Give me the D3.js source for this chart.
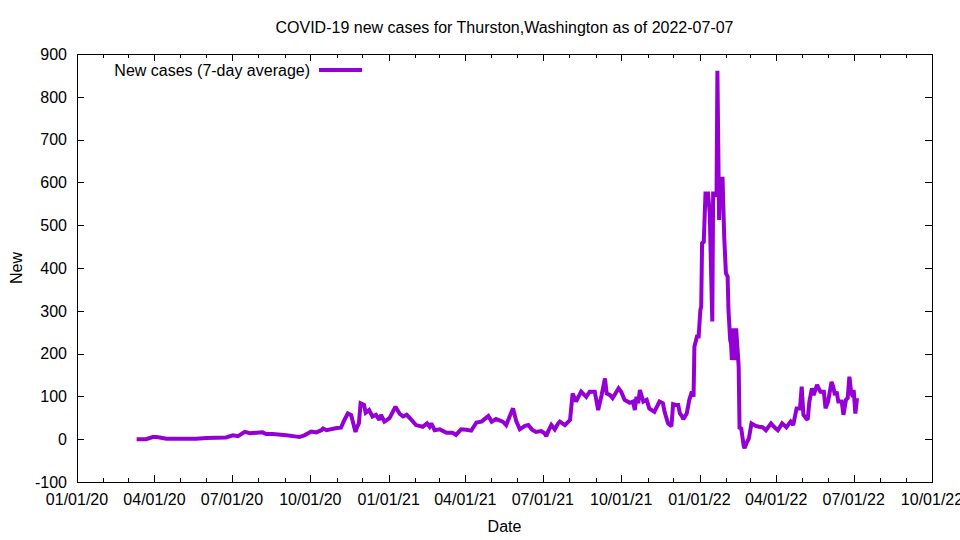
<!DOCTYPE html>
<html><head><meta charset="utf-8">
<script src="https://cdn.jsdelivr.net/npm/d3@7"></script>
<style>body{margin:0;background:#fff}svg text{font-family:"Liberation Sans",Arial,sans-serif;font-size:16px;fill:#000}</style>
</head><body><svg id="c" width="960" height="540"></svg>
<script>
const titleText = "COVID-19 new cases for Thurston,Washington as of 2022-07-07";
const seriesLabel = "New cases (7-day average)";
const xTickLabels = ["01/01/20","04/01/20","07/01/20","10/01/20","01/01/21","04/01/21","07/01/21","10/01/21","01/01/22","04/01/22","07/01/22","10/01/22"];
const yTickValues = [-100,0,100,200,300,400,500,600,700,800,900];
const dates = [
"2020-03-11","2020-03-22","2020-03-30","2020-04-03","2020-04-07","2020-04-15","2020-05-01","2020-05-20","2020-06-01","2020-06-24",
"2020-07-02","2020-07-08","2020-07-16","2020-07-22","2020-07-30","2020-08-06","2020-08-10","2020-08-18","2020-09-03","2020-09-15",
"2020-09-18","2020-09-24","2020-10-02","2020-10-08","2020-10-14","2020-10-16","2020-10-20","2020-11-01","2020-11-06","2020-11-10",
"2020-11-14","2020-11-18","2020-11-23","2020-11-25","2020-11-27","2020-11-29","2020-12-03","2020-12-05","2020-12-09","2020-12-13",
"2020-12-17","2020-12-21","2020-12-23","2020-12-27","2021-01-02","2021-01-09","2021-01-14","2021-01-18","2021-01-22","2021-01-26",
"2021-02-02","2021-02-10","2021-02-15","2021-02-18","2021-02-20","2021-02-24","2021-03-02","2021-03-10","2021-03-17","2021-03-21",
"2021-03-27","2021-04-02","2021-04-08","2021-04-14","2021-04-20","2021-04-28","2021-05-02","2021-05-07","2021-05-15","2021-05-19",
"2021-05-23","2021-05-27","2021-05-31","2021-06-04","2021-06-10","2021-06-14","2021-06-18","2021-06-23","2021-06-29","2021-07-03",
"2021-07-05","2021-07-07","2021-07-11","2021-07-15","2021-07-19","2021-07-21","2021-07-27","2021-07-31","2021-08-02","2021-08-05",
"2021-08-09","2021-08-15","2021-08-21","2021-08-25","2021-08-31","2021-09-04","2021-09-08","2021-09-12","2021-09-14","2021-09-18",
"2021-09-21","2021-09-28","2021-10-01","2021-10-05","2021-10-11","2021-10-15","2021-10-17","2021-10-19","2021-10-21","2021-10-23",
"2021-10-27","2021-10-31","2021-11-03","2021-11-09","2021-11-15","2021-11-19","2021-11-21","2021-11-25","2021-11-29","2021-12-01",
"2021-12-04","2021-12-07","2021-12-09","2021-12-11","2021-12-13","2021-12-17","2021-12-20","2021-12-23","2021-12-25","2021-12-26",
"2021-12-29","2021-12-31","2022-01-02","2022-01-03","2022-01-04","2022-01-06","2022-01-08","2022-01-11","2022-01-13","2022-01-16",
"2022-01-17","2022-01-19","2022-01-21","2022-01-22","2022-01-24","2022-01-25","2022-01-27","2022-01-28","2022-01-30","2022-02-01",
"2022-02-03","2022-02-04","2022-02-06","2022-02-07","2022-02-08","2022-02-10","2022-02-11","2022-02-13","2022-02-15","2022-02-16",
"2022-02-17","2022-02-19","2022-02-22","2022-02-23","2022-02-25","2022-02-28","2022-03-03","2022-03-08","2022-03-12","2022-03-16",
"2022-03-20","2022-03-26","2022-03-30","2022-04-03","2022-04-08","2022-04-13","2022-04-18","2022-04-21","2022-04-25","2022-04-29",
"2022-05-01","2022-05-03","2022-05-06","2022-05-08","2022-05-10","2022-05-13","2022-05-15","2022-05-19","2022-05-21","2022-05-23",
"2022-05-27","2022-05-29","2022-06-01","2022-06-05","2022-06-07","2022-06-09","2022-06-11","2022-06-13","2022-06-17","2022-06-19",
"2022-06-22","2022-06-24","2022-06-26","2022-06-28","2022-06-30","2022-07-01","2022-07-03","2022-07-05"
];
const newCases = [
0,0,5,5,4,1,1,1,3,4,
9,7,17,14,15,16,12,12,9,6,
5,9,18,16,21,25,21,26,27,45,
60,56,17,29,37,84,80,62,68,53,
57,45,57,41,49,76,59,53,57,49,
33,29,37,29,37,21,23,15,15,10,
23,22,20,39,41,54,41,47,41,33,
53,72,41,23,31,33,23,17,19,14,
7,17,33,23,37,41,33,41,45,107,
88,111,99,111,111,68,103,142,107,103,
96,119,111,92,85,88,68,99,84,115,
88,92,72,64,88,84,64,37,30,82,
80,80,60,55,47,60,92,111,99,216,
240,240,302,310,458,461,574,574,528,275,
574,574,567,861,512,610,567,613,473,388,
380,302,232,224,185,259,185,259,200,169,
27,25,-17,-21,-10,2,37,31,29,28,
21,37,28,21,37,28,41,33,72,72,
123,57,49,45,88,119,103,127,119,111,
111,72,88,134,123,103,111,88,88,57,
92,96,146,111,99,115,60,96
];

const W = 960, H = 540;
const m = {left:77, right:932, top:54, bottom:482};
const svg = d3.select("#c");
const parse = d3.timeParse("%Y-%m-%d");
const data = dates.map((d,i)=>({date:parse(d), v:newCases[i]}));
const x = d3.scaleTime().domain([new Date(2020,0,1), new Date(2022,9,1)]).range([m.left, m.right]);
const y = d3.scaleLinear().domain([-100,900]).range([m.bottom, m.top]);
const fmt = d3.timeFormat("%m/%d/%y");
const majors = d3.timeMonth.every(3).range(new Date(2020,0,1), new Date(2022,9,2));
const minors = d3.timeMonth.every(1).range(new Date(2020,0,1), new Date(2022,9,2)).filter(d=>d.getMonth()%3!==0);

const g = svg.append("g").attr("stroke","#000").attr("stroke-width",1).attr("shape-rendering","crispEdges");
// y ticks left & right
yTickValues.forEach(v=>{
  const yy = Math.round(y(v))+0.5;
  g.append("line").attr("x1",m.left).attr("x2",m.left+7).attr("y1",yy).attr("y2",yy);
  g.append("line").attr("x1",m.right).attr("x2",m.right-7).attr("y1",yy).attr("y2",yy);
});
majors.forEach(d=>{
  const xx = Math.round(x(d))+0.5;
  g.append("line").attr("x1",xx).attr("x2",xx).attr("y1",m.bottom).attr("y2",m.bottom-7);
  g.append("line").attr("x1",xx).attr("x2",xx).attr("y1",m.top).attr("y2",m.top+7);
});
minors.forEach(d=>{
  const xx = Math.round(x(d))+0.5;
  g.append("line").attr("x1",xx).attr("x2",xx).attr("y1",m.bottom).attr("y2",m.bottom-4);
  g.append("line").attr("x1",xx).attr("x2",xx).attr("y1",m.top).attr("y2",m.top+4);
});
// frame
g.append("rect").attr("x",m.left+0.5).attr("y",m.top+0.5).attr("width",m.right-m.left).attr("height",m.bottom-m.top).attr("fill","none");

// labels
yTickValues.forEach(v=>{
  svg.append("text").attr("x",m.left-10).attr("y",y(v)).attr("dy","0.36em").attr("text-anchor","end").text(v);
});
majors.forEach((d,i)=>{
  svg.append("text").attr("x",x(d)).attr("y",505).attr("text-anchor","middle").text(xTickLabels[i] || fmt(d));
});
svg.append("text").attr("x",(m.left+m.right)/2).attr("y",33).attr("text-anchor","middle").text(titleText);
svg.append("text").attr("x",(m.left+m.right)/2).attr("y",532).attr("text-anchor","middle").text("Date");
svg.append("text").attr("transform","translate(22,268) rotate(-90)").attr("text-anchor","middle").text("New");

// line
const line = d3.line().x(d=>x(d.date)).y(d=>y(d.v));
svg.append("path").datum(data).attr("d",line).attr("fill","none").attr("stroke","#9400d3").attr("stroke-width",4).attr("stroke-linejoin","miter").attr("stroke-miterlimit",2);

// legend
svg.append("text").attr("x",310).attr("y",76).attr("text-anchor","end").text(seriesLabel);
svg.append("line").attr("x1",319).attr("x2",362).attr("y1",70).attr("y2",70).attr("stroke","#9400d3").attr("stroke-width",4);
</script></body></html>
